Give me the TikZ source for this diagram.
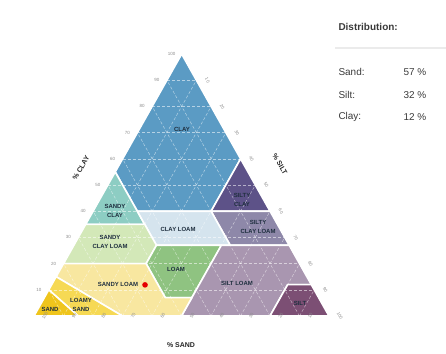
\documentclass[tikz,border=0pt]{standalone}
\usepackage{fontspec}
\setmainfont{Liberation Sans}
\definecolor{clayc}{HTML}{5B9BC4}
\definecolor{sandyclayc}{HTML}{8DCDC3}
\definecolor{siltyclayc}{HTML}{5D5288}
\definecolor{siltyclayloamc}{HTML}{8E88A9}
\definecolor{clayloamc}{HTML}{D5E4EE}
\definecolor{sandyclayloamc}{HTML}{D3E8B8}
\definecolor{loamc}{HTML}{8FC381}
\definecolor{siltloamc}{HTML}{A996B0}
\definecolor{siltc}{HTML}{7C4F74}
\definecolor{sandyloamc}{HTML}{F8E7A0}
\definecolor{loamysandc}{HTML}{F6D954}
\definecolor{sandc}{HTML}{EFC51C}
\definecolor{labelc}{HTML}{1F2F3F}
\definecolor{panelc}{HTML}{3A3A3A}
\tikzset{
  region/.style={draw=white, line width=1.6bp, line join=round},
  soiltext/.style={font=\fontsize{6}{8.5}\selectfont\bfseries, text=labelc, align=center, inner sep=0.5bp},
  tick/.style={font=\fontsize{4.5}{5}\selectfont, text=black!45, inner sep=0bp},
  axistext/.style={font=\fontsize{7}{8}\selectfont\bfseries, text=black!85, inner sep=0bp},
  paneltext/.style={font=\fontsize{10}{12}\selectfont, text=panelc, anchor=west}
}

\begin{document}
\begin{tikzpicture}[x=1bp,y=1bp]
                \useasboundingbox (0,0) rectangle (446,353);
                % Corners of the triangle (weights below are in tens of percent)
                \coordinate (sand) at (34,37);
                \coordinate (silt) at (329,37);
                \coordinate (clay) at (181.7,299);
                % Draw the soil classes
                \filldraw[region, fill=clayc] (barycentric cs:sand=0,silt=0,clay=10) -- (barycentric cs:sand=4.5,silt=0,clay=5.5) -- (barycentric cs:sand=4.5,silt=1.5,clay=4) -- (barycentric cs:sand=2,silt=4,clay=4) -- (barycentric cs:sand=0,silt=4,clay=6) -- cycle;
                \filldraw[region, fill=sandyclayc] (barycentric cs:sand=4.5,silt=0,clay=5.5) -- (barycentric cs:sand=6.5,silt=0,clay=3.5) -- (barycentric cs:sand=4.5,silt=2,clay=3.5) -- cycle;
                \filldraw[region, fill=siltyclayc] (barycentric cs:sand=0,silt=4,clay=6) -- (barycentric cs:sand=2,silt=4,clay=4) -- (barycentric cs:sand=0,silt=6,clay=4) -- cycle;
                \filldraw[region, fill=siltyclayloamc] (barycentric cs:sand=0,silt=6,clay=4) -- (barycentric cs:sand=2,silt=4,clay=4) -- (barycentric cs:sand=2,silt=5.3,clay=2.7) -- (barycentric cs:sand=0,silt=7.3,clay=2.7) -- cycle;
                \filldraw[region, fill=clayloamc] (barycentric cs:sand=2,silt=4,clay=4) -- (barycentric cs:sand=4.5,silt=1.5,clay=4) -- (barycentric cs:sand=4.5,silt=2.8,clay=2.7) -- (barycentric cs:sand=2,silt=5.3,clay=2.7) -- cycle;
                \filldraw[region, fill=sandyclayloamc] (barycentric cs:sand=4.5,silt=2,clay=3.5) -- (barycentric cs:sand=6.5,silt=0,clay=3.5) -- (barycentric cs:sand=8,silt=0,clay=2) -- (barycentric cs:sand=5.2,silt=2.8,clay=2) -- (barycentric cs:sand=4.5,silt=2.8,clay=2.7) -- cycle;
                \filldraw[region, fill=loamc] (barycentric cs:sand=4.5,silt=2.8,clay=2.7) -- (barycentric cs:sand=2.3,silt=5,clay=2.7) -- (barycentric cs:sand=4.3,silt=5,clay=0.7) -- (barycentric cs:sand=5.2,silt=4.1,clay=0.7) -- (barycentric cs:sand=5.2,silt=2.8,clay=2) -- cycle;
                \filldraw[region, fill=siltloamc] (barycentric cs:sand=2.3,silt=5,clay=2.7) -- (barycentric cs:sand=0,silt=7.3,clay=2.7) -- (barycentric cs:sand=0,silt=8.8,clay=1.2) -- (barycentric cs:sand=0.8,silt=8,clay=1.2) -- (barycentric cs:sand=2,silt=8,clay=0) -- (barycentric cs:sand=5,silt=5,clay=0) -- cycle;
                \filldraw[region, fill=siltc] (barycentric cs:sand=0,silt=8.8,clay=1.2) -- (barycentric cs:sand=0.8,silt=8,clay=1.2) -- (barycentric cs:sand=2,silt=8,clay=0) -- (barycentric cs:sand=0,silt=10,clay=0) -- cycle;
                \filldraw[region, fill=sandyloamc] (barycentric cs:sand=8.5,silt=0,clay=1.5) -- (barycentric cs:sand=8,silt=0,clay=2) -- (barycentric cs:sand=5.2,silt=2.8,clay=2) -- (barycentric cs:sand=5.2,silt=4.1,clay=0.7) -- (barycentric cs:sand=4.3,silt=5,clay=0.7) -- (barycentric cs:sand=5,silt=5,clay=0) -- (barycentric cs:sand=7,silt=3,clay=0) -- cycle;
                \filldraw[region, fill=loamysandc] (barycentric cs:sand=9,silt=0,clay=1) -- (barycentric cs:sand=8.5,silt=0,clay=1.5) -- (barycentric cs:sand=7,silt=3,clay=0) -- (barycentric cs:sand=8.5,silt=1.5,clay=0) -- cycle;
                \filldraw[region, fill=sandc] (barycentric cs:sand=10,silt=0,clay=0) -- (barycentric cs:sand=9,silt=0,clay=1) -- (barycentric cs:sand=8.5,silt=1.5,clay=0) -- cycle;
                % Dashed grid every 10 percent
                \foreach \v [evaluate=\v as \w using int(10-\v)] in {1,...,9}{
                    \draw[white, opacity=0.55, line width=0.5bp, dash pattern=on 3bp off 2bp] (barycentric cs:sand=\w,silt=0,clay=\v) -- (barycentric cs:sand=0,silt=\w,clay=\v);
                    \draw[white, opacity=0.55, line width=0.5bp, dash pattern=on 3bp off 2bp] (barycentric cs:sand=\v,silt=\w,clay=0) -- (barycentric cs:sand=\v,silt=0,clay=\w);
                    \draw[white, opacity=0.55, line width=0.5bp, dash pattern=on 3bp off 2bp] (barycentric cs:sand=\w,silt=\v,clay=0) -- (barycentric cs:sand=0,silt=\v,clay=\w);
                }
                % Tick labels on the three sides
                \foreach \v [evaluate=\v as \w using int(10-\v)] in {1,...,10}{
                    \node[tick, xshift=-10bp] (c\v) at (barycentric cs:sand=\w,silt=0,clay=\v) {\v0};
                    \node[tick, rotate=-60, xshift=5.5bp, yshift=9.5bp] (s\v) at (barycentric cs:sand=0,silt=\v,clay=\w) {\v0};
                    \node[tick, rotate=60, xshift=6bp, yshift=-9bp] (a\v) at (barycentric cs:sand=\v,silt=\w,clay=0) {\v0};
                }
                % Axis titles
                \node[axistext, rotate=60] (clayaxis) at (81,185) {\% CLAY};
                \node[axistext, rotate=-60] (siltaxis) at (280,189) {\% SILT};
                \node[axistext] (sandaxis) at (181,8) {\% SAND};
                % Class names
                \node[soiltext] (claylbl) at (182,224) {CLAY};
                \node[soiltext] (sandyclaylbl) at (115,142) {SANDY\\CLAY};
                \node[soiltext] (clayloamlbl) at (178,124) {CLAY LOAM};
                \node[soiltext] (siltyclaylbl) at (242,153) {SILTY\\CLAY};
                \node[soiltext] (siltyclayloamlbl) at (258,126) {SILTY\\CLAY LOAM};
                \node[soiltext] (sandyclayloamlbl) at (110,111) {SANDY\\CLAY LOAM};
                \node[soiltext] (loamlbl) at (176,84) {LOAM};
                \node[soiltext] (siltloamlbl) at (237,70) {SILT LOAM};
                \node[soiltext] (sandyloamlbl) at (118,69) {SANDY LOAM};
                \node[soiltext] (loamysandlbl) at (81,48) {LOAMY\\SAND};
                \node[soiltext] (sandlbl) at (50,44) {SAND};
                \node[soiltext] (siltlbl) at (300,50) {SILT};
                % Sample point
                \fill[red!90!black] (barycentric cs:sand=5.7,silt=3.2,clay=1.2) circle (2.8bp);
                % Distribution panel
                \node[paneltext, font=\fontsize{10}{12}\selectfont\bfseries] (disthead) at (335,326) {Distribution:};
                \draw[black!8, line width=1.5bp] (335,305) -- (446,305);
                \node[paneltext] (sandname) at (335,281) {Sand:};
                \node[paneltext] (sandval) at (400,281) {57 \%};
                \node[paneltext] (siltname) at (335,258) {Silt:};
                \node[paneltext] (siltval) at (400,258) {32 \%};
                \node[paneltext] (clayname) at (335,236) {Clay:};
                \node[paneltext] (clayval) at (400,236) {12 \%};
            \end{tikzpicture}
\end{document}
